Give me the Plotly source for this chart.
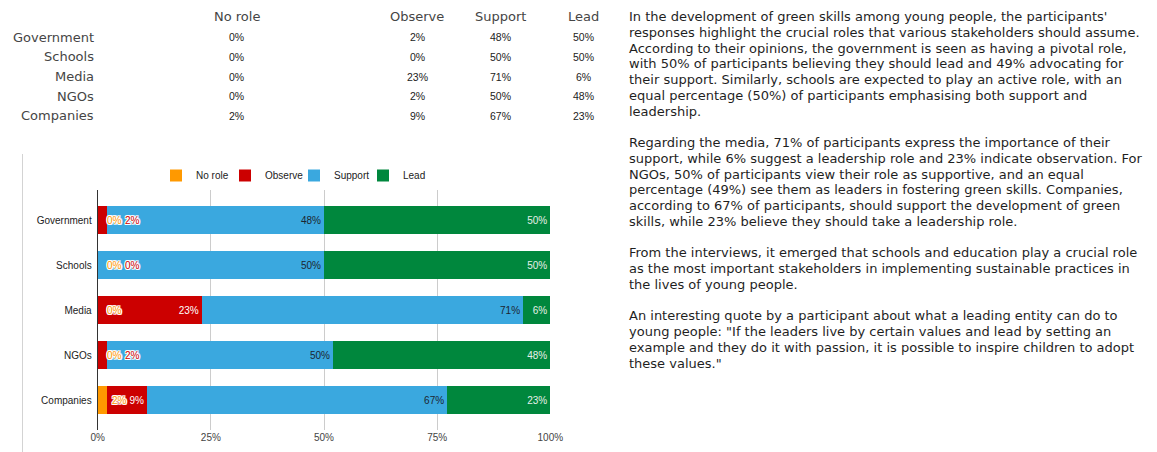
import plotly.graph_objects as go

# ---------------- data ----------------
categories = ["Government", "Schools", "Media", "NGOs", "Companies"]
series_names = ["No role", "Observe", "Support", "Lead"]
no_role = [0, 0, 0, 0, 2]
observe = [2, 0, 23, 2, 9]
support = [48, 50, 71, 50, 67]
lead = [50, 50, 6, 48, 23]
x_tick_vals = [0, 25, 50, 75, 100]
x_tick_text = ["0%", "25%", "50%", "75%", "100%"]

paragraph_lines = [
    "In the development of green skills among young people, the participants'",
    "responses highlight the crucial roles that various stakeholders should assume.",
    "According to their opinions, the government is seen as having a pivotal role,",
    "with 50% of participants believing they should lead and 49% advocating for",
    "their support. Similarly, schools are expected to play an active role, with an",
    "equal percentage (50%) of participants emphasising both support and",
    "leadership.",
    "",
    "Regarding the media, 71% of participants express the importance of their",
    "support, while 6% suggest a leadership role and 23% indicate observation. For",
    "NGOs, 50% of participants view their role as supportive, and an equal",
    "percentage (49%) see them as leaders in fostering green skills. Companies,",
    "according to 67% of participants, should support the development of green",
    "skills, while 23% believe they should take a leadership role.",
    "",
    "From the interviews, it emerged that schools and education play a crucial role",
    "as the most important stakeholders in implementing sustainable practices in",
    "the lives of young people.",
    "",
    "An interesting quote by a participant about what a leading entity can do to",
    "young people: \"If the leaders live by certain values and lead by setting an",
    "example and they do it with passion, it is possible to inspire children to adopt",
    "these values.\"",
]

# ---------------- styling ----------------
W, H = 1157, 452
colors = ["#ff9900", "#cc0000", "#3aa8df", "#00873d"]
inside_text_colors = ["#ffffff", "#ffffff", "#1c2530", "#e6efe8"]
AX_L, AX_R = 97.7, 550.3       # plot area, px
AX_T, AX_B = 190, 430
SMALL = 4                      # values below this get an outside label

def px_x(p):
    return p / W

def px_y(p):
    return 1 - p / H

all_series = [no_role, observe, support, lead]

fig = go.Figure()
for name, vals, col, tcol in zip(series_names, all_series, colors, inside_text_colors):
    fig.add_trace(go.Bar(
        y=categories, x=vals, orientation="h", name=name,
        marker=dict(color=col, line=dict(width=0)),
        text=[f"{v}%" if v >= SMALL else "" for v in vals],
        textposition="inside", insidetextanchor="end", textangle=0,
        textfont=dict(family="Liberation Sans, Arial", size=10, color=tcol),
        hoverinfo="skip",
    ))

annotations = []

# outside labels for the tiny segments (positions from the stacked data)
px_per_unit = (AX_R - AX_L) / 100.0
outline = ("1px 0 0 #fff, -1px 0 0 #fff, 0 1px 0 #fff, 0 -1px 0 #fff, "
           "1px 1px 0 #fff, -1px -1px 0 #fff, 1px -1px 0 #fff, -1px 1px 0 #fff")
ANN_PAD = 2  # annotation box padding (borderpad + border)
for ci, cat in enumerate(categories):
    row = [s[ci] for s in all_series]
    total = float(sum(row))
    cum = 0.0
    prev_right = None
    for si, v in enumerate(row):
        cum += v / total * 100.0
        if v < SMALL:
            end_px = AX_L + cum * px_per_unit
            left = end_px + (9.5 if v == 0 else 5.5)
            if prev_right is not None:
                left = max(left, prev_right + 3)
            tw = 14.5 if v < 10 else 20
            annotations.append(dict(
                x=cum, y=cat, xref="x", yref="y", text=f"{v}%", showarrow=False,
                xanchor="left", yanchor="middle", xshift=left - end_px - ANN_PAD,
                font=dict(family="Liberation Sans, Arial", size=10, color=colors[si],
                          shadow=outline),
            ))
            prev_right = left + tw

# table at top-left
col_centers = [236.5, 417, 500, 583.5]
header_y = 16.7
row_ys = [37.3, 56.9, 76.6, 96.4, 116.0]
for name, cx in zip(series_names, col_centers):
    annotations.append(dict(
        x=px_x(cx), y=px_y(header_y), xref="paper", yref="paper", text=name,
        showarrow=False, xanchor="center", yanchor="middle",
        font=dict(family="DejaVu Sans", size=13, color="#454545"),
    ))
for ri, cat in enumerate(categories):
    annotations.append(dict(
        x=px_x(94 + ANN_PAD), y=px_y(row_ys[ri]), xref="paper", yref="paper", text=cat,
        showarrow=False, xanchor="right", yanchor="middle",
        font=dict(family="DejaVu Sans", size=13, color="#454545"),
    ))
    for si, cx in enumerate(col_centers):
        annotations.append(dict(
            x=px_x(cx), y=px_y(row_ys[ri]), xref="paper", yref="paper",
            text=f"{all_series[si][ri]}%", showarrow=False,
            xanchor="center", yanchor="middle",
            font=dict(family="Liberation Sans, Arial", size=10.5, color="#222222"),
        ))

# paragraph text on the right
line_h = 15.75
for li, line in enumerate(paragraph_lines):
    if not line:
        continue
    annotations.append(dict(
        x=px_x(629 - ANN_PAD), y=px_y(16.7 + li * line_h), xref="paper", yref="paper",
        text=line, showarrow=False, xanchor="left", yanchor="middle",
        font=dict(family="DejaVu Sans", size=13, color="#1f1f1f"),
    ))

fig.update_layout(
    width=W, height=H,
    margin=dict(l=0, r=0, t=0, b=0, autoexpand=False),
    paper_bgcolor="white", plot_bgcolor="white",
    barmode="stack", barnorm="percent", bargap=0.356,
    font=dict(family="Liberation Sans, Arial", size=10, color="#222222"),
    showlegend=True,
    legend=dict(
        orientation="h", x=px_x(156), xanchor="left", y=px_y(175.5), yanchor="middle",
        traceorder="normal", font=dict(family="Liberation Sans, Arial", size=10, color="#222222"),
        itemwidth=30, entrywidth=24, bgcolor="rgba(0,0,0,0)",
        itemclick=False, itemdoubleclick=False,
    ),
    xaxis=dict(
        domain=[px_x(AX_L), px_x(AX_R)], range=[0, 100], automargin=False,
        tickvals=x_tick_vals, ticktext=x_tick_text,
        showgrid=True, gridcolor="#cccccc", gridwidth=1, zeroline=False,
        ticks="", tickfont=dict(size=10, color="#444444"), fixedrange=True,
    ),
    yaxis=dict(
        domain=[px_y(AX_B), px_y(AX_T)], automargin=False,
        categoryorder="array", categoryarray=categories,
        range=[4.6667, -0.6667], ticklabelstandoff=3,
        showline=True, linecolor="#333333", linewidth=1, showgrid=False,
        ticks="", tickfont=dict(size=10, color="#222222"), fixedrange=True,
    ),
    annotations=annotations,
    shapes=[dict(type="line", xref="paper", yref="paper",
                 x0=px_x(22.5), x1=px_x(22.5), y0=0, y1=px_y(154),
                 line=dict(color="#d3d3d3", width=1))],
)

fig.write_html("out.html")
